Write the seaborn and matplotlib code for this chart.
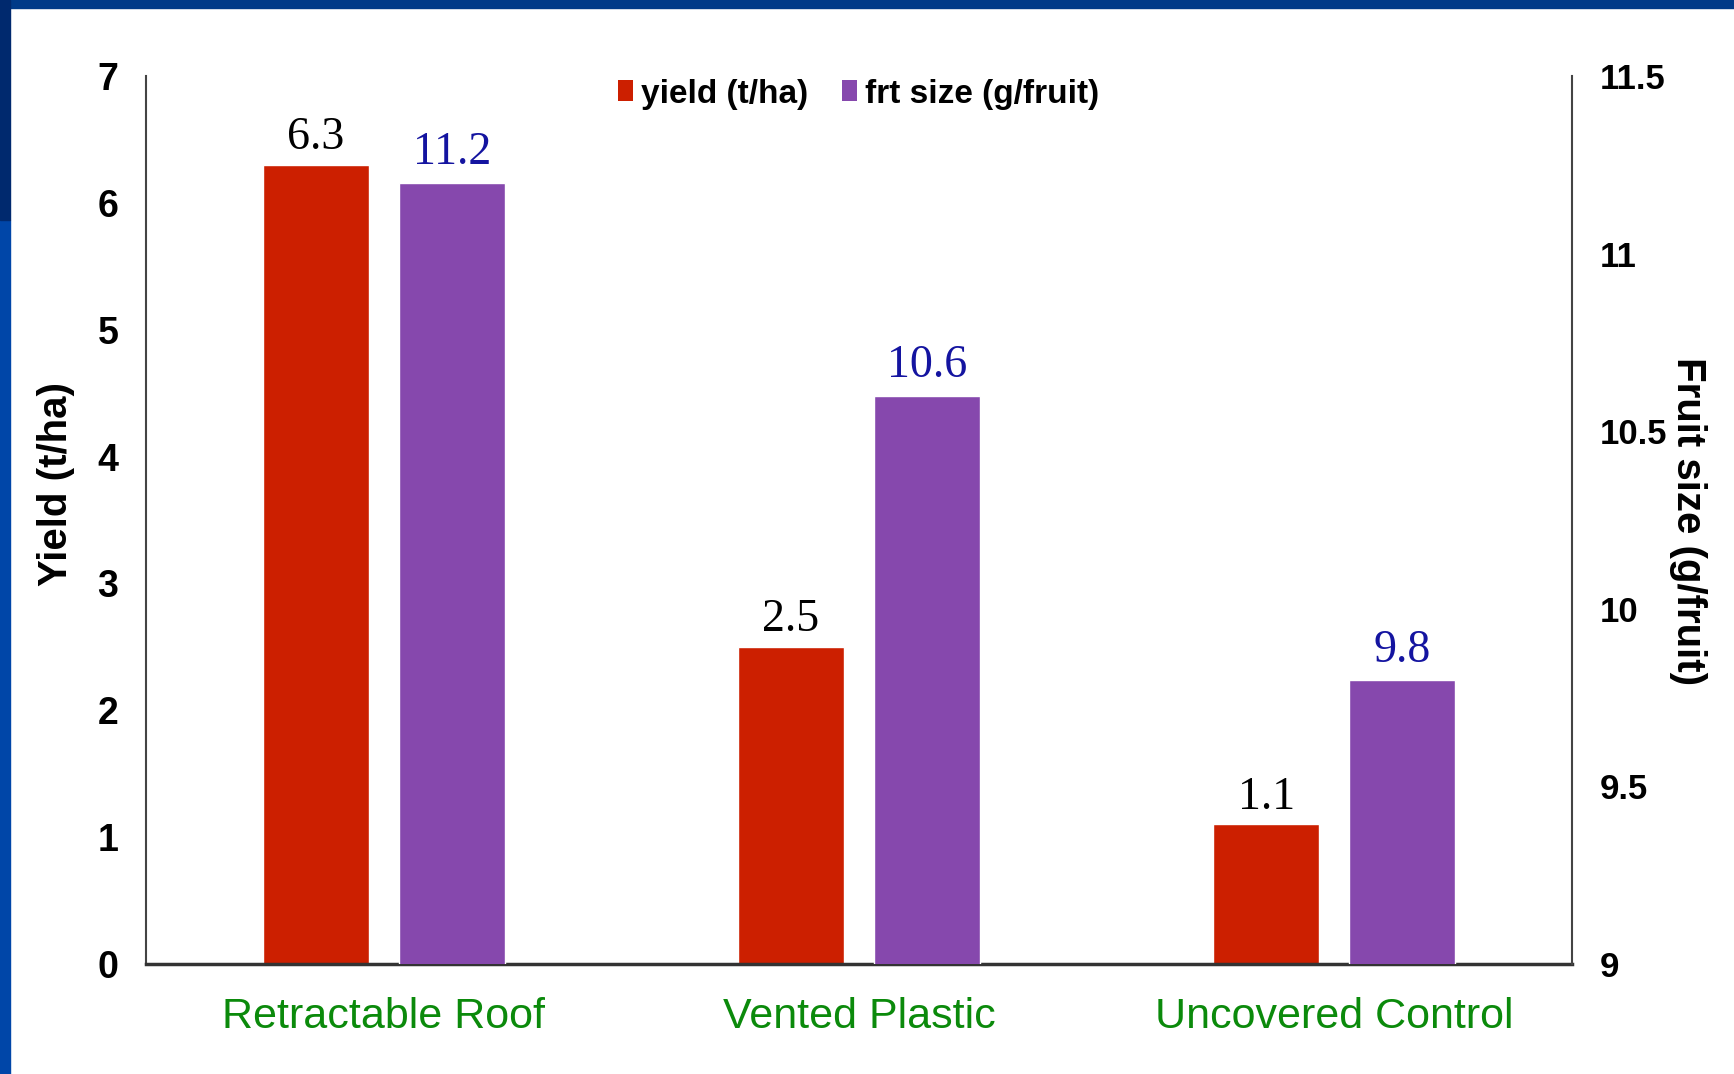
import numpy as np
import pandas as pd
import matplotlib
matplotlib.use("Agg")
import matplotlib.pyplot as plt
from matplotlib.patches import Patch, Rectangle
import seaborn as sns

# ---- data ----
treatments = ["Retractable Roof", "Vented Plastic", "Uncovered Control"]
yield_t_ha = [6.3, 2.5, 1.1]
fruit_size_g = [11.2, 10.6, 9.8]
series_names = ["yield (t/ha)", "frt size (g/fruit)"]
left_ticks = [0, 1, 2, 3, 4, 5, 6, 7]
right_ticks = [9, 9.5, 10, 10.5, 11, 11.5]
right_tick_labels = ["9", "9.5", "10", "10.5", "11", "11.5"]

RED = "#cc1f00"
PURPLE = "#8648ad"
GREEN = "#0b8a0b"
DBLUE = "#1414a0"

sns.set_style("white")
sans = ["Liberation Sans", "DejaVu Sans"]
serif = ["Liberation Serif", "DejaVu Serif"]
plt.rcParams["font.family"] = sans

df = pd.DataFrame({
    "treatment": treatments * 2,
    "series": [series_names[0]] * 3 + [series_names[1]] * 3,
    "value": yield_t_ha + fruit_size_g,
})

fig = plt.figure(figsize=(17.34, 10.74), dpi=100)
fig.patch.set_facecolor("white")
# slide border (top and left bands)
fig.patches.append(Rectangle((0, 1 - 8 / 1074), 1, 8 / 1074, transform=fig.transFigure,
                             color="#003a88", zorder=0))
fig.patches.append(Rectangle((0, 0), 10 / 1734, 1 - 220 / 1074, transform=fig.transFigure,
                             color="#0046a8", zorder=0))
fig.patches.append(Rectangle((0, 1 - 220 / 1074), 10 / 1734, 220 / 1074, transform=fig.transFigure,
                             color="#00296e", zorder=0))

ax = fig.add_axes([146 / 1734, 1 - 964 / 1074, (1572 - 146) / 1734, (964 - 76) / 1074])
ax2 = ax.twinx()

pal = {series_names[0]: RED, series_names[1]: PURPLE}
sns.barplot(data=df[df.series == series_names[0]], x="treatment", y="value", hue="series",
            hue_order=series_names, order=treatments, palette=pal, width=0.572, gap=0.22,
            dodge=True, ax=ax, legend=False, saturation=1, errorbar=None)
sns.barplot(data=df[df.series == series_names[1]], x="treatment", y="value", hue="series",
            hue_order=series_names, order=treatments, palette=pal, width=0.572, gap=0.22,
            dodge=True, ax=ax2, legend=False, saturation=1, errorbar=None)

ax.set_xlim(-0.5, 2.5)
ax.set_ylim(0, 7)
ax2.set_ylim(9, 11.5)
ax.set_yticks(left_ticks)
ax.set_yticklabels([str(t) for t in left_ticks])
ax2.set_yticks(right_ticks)
ax2.set_yticklabels(right_tick_labels)

for lab in ax.get_yticklabels():
    lab.set_fontweight("bold")
    lab.set_fontsize(27)
    lab.set_color("black")
for lab in ax2.get_yticklabels():
    lab.set_fontweight("bold")
    lab.set_fontsize(25)
    lab.set_color("black")
ax.tick_params(axis="y", length=0, pad=20)
ax2.tick_params(axis="y", length=0, pad=20)
ax.tick_params(axis="x", length=0, pad=24, labelsize=31, labelcolor=GREEN)
ax2.tick_params(axis="x", length=0)

ax.set_xlabel("")
ax2.set_xlabel("")
ax.set_ylabel("Yield (t/ha)", fontsize=29, fontweight="bold", color="black")
ax2.set_ylabel("Fruit size (g/fruit)", fontsize=29, fontweight="bold", color="black",
               rotation=270)
ax.yaxis.label.set_va("center")
ax2.yaxis.label.set_va("center")
ax.yaxis.set_label_coords(-0.063, 0.54)
ax2.yaxis.set_label_coords(1.081, 0.499)

for a in (ax, ax2):
    a.spines["top"].set_visible(False)
ax2.spines["left"].set_visible(False)
ax2.spines["bottom"].set_visible(False)
ax.spines["right"].set_visible(False)
ax.spines["left"].set_color("#444444")
ax.spines["left"].set_linewidth(1.5)
ax2.spines["right"].set_color("#444444")
ax2.spines["right"].set_linewidth(1.5)
ax.spines["bottom"].set_color("#333333")
ax.spines["bottom"].set_linewidth(2.5)

# value labels
for c in ax.containers:
    ax.bar_label(c, fmt="%.1f", padding=4, fontsize=33, family=serif, color="black")
for c in ax2.containers:
    ax2.bar_label(c, fmt="%.1f", padding=6, fontsize=33, family=serif, color=DBLUE)

handles = [Patch(facecolor=RED, edgecolor="none"), Patch(facecolor=PURPLE, edgecolor="none")]
leg = ax2.legend(handles, series_names, loc="center left",
                 bbox_to_anchor=(618 / 1734, 1 - 94 / 1074), bbox_transform=fig.transFigure,
                 ncol=2, frameon=False, handlelength=0.45, handleheight=0.6,
                 handletextpad=0.25, columnspacing=1.0, borderpad=0, borderaxespad=0,
                 prop={"weight": "bold", "size": 24})
for t in leg.get_texts():
    t.set_color("black")

fig.savefig("out.png", dpi=100)
